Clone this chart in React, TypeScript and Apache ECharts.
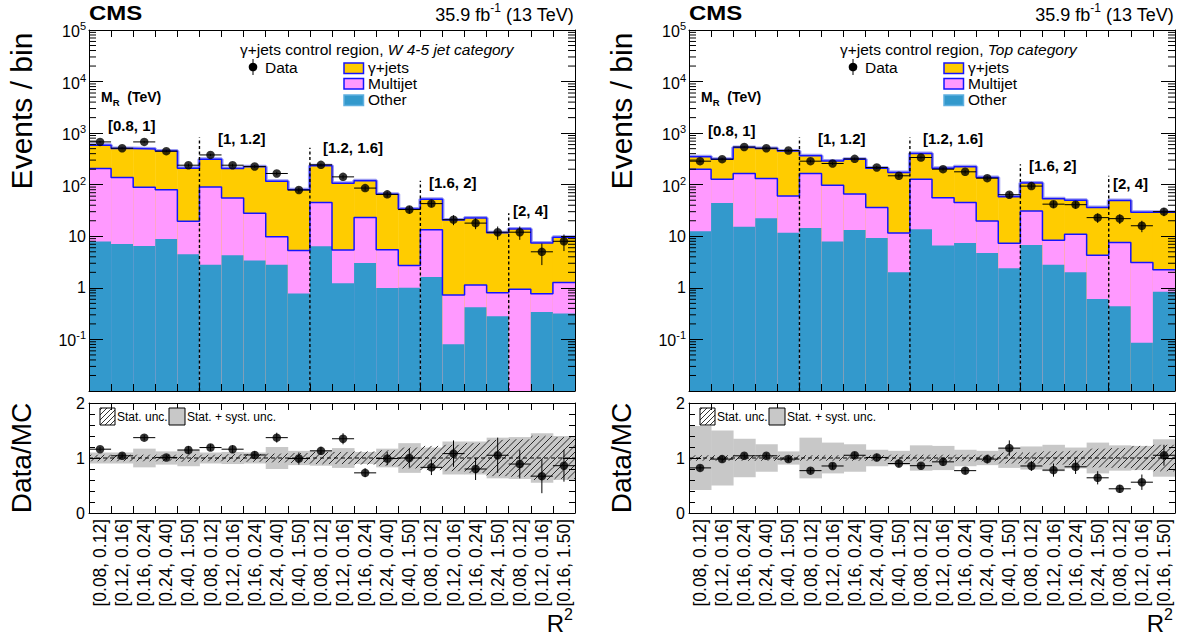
import React, { useEffect, useRef } from 'react';
import * as echarts from 'echarts';

const FONT = '"Liberation Sans", Arial, Helvetica, sans-serif';
const GOLD = '#ffcc00';
const PINK = '#ff99ff';
const SKY = '#3399cc';
const OUTLINE = '#1414ff';
const BAND = '#9c9cf2';
const GRAY = '#c8c8c8';

// ---------------- data ----------------
const binLabels = [
  '[0.08, 0.12]', '[0.12, 0.16]', '[0.16, 0.24]', '[0.24, 0.40]', '[0.40, 1.50]',
  '[0.08, 0.12]', '[0.12, 0.16]', '[0.16, 0.24]', '[0.24, 0.40]', '[0.40, 1.50]',
  '[0.08, 0.12]', '[0.12, 0.16]', '[0.16, 0.24]', '[0.24, 0.40]', '[0.40, 1.50]',
  '[0.08, 0.12]', '[0.12, 0.16]', '[0.16, 0.24]', '[0.24, 1.50]',
  '[0.08, 0.12]', '[0.12, 0.16]', '[0.16, 1.50]',
];
const mrLabels = ['[0.8, 1]', '[1, 1.2]', '[1.2, 1.6]', '[1.6, 2]', '[2, 4]'];
const mrEdges = [5, 10, 15, 19];

// W 4-5 jet category
const wOther = [7.9, 7.1, 6.5, 8.9, 4.5, 2.8, 4.3, 3.4, 2.8, 0.78, 6.4, 1.23, 3.05, 0.99, 1.0, 1.63, 0.081, 0.42, 0.28, 0, 0.34, 0.32];
const wMultijet = [199, 131, 82.5, 71, 15, 88, 51, 24.6, 7.0, 4.5, 38.6, 4.2, 20, 4.5, 1.7, 11.8, 0.65, 0.72, 0.52, 0.94, 0.43, 0.95];
const wGammaJets = [376, 366, 401, 373, 190, 222, 152, 194, 107, 75, 187, 101, 96, 60, 31, 39, 20, 21.5, 10.9, 12.9, 6.6, 8.3];
const wData = [676, 510, 676, 447, 239, 378, 239, 226, 165, 79, 243, 142, 86, 65, 33, 43, 21, 18, 12, 12, 5, 8];
const wRatio = [1.16, 1.04, 1.37, 1.01, 1.145, 1.19, 1.16, 1.055, 1.37, 0.99, 1.13, 1.35, 0.73, 0.99, 1.0, 0.83, 1.08, 0.80, 1.05, 0.89, 0.67, 0.86];
const wRatioErr = [0.04, 0.045, 0.05, 0.05, 0.07, 0.06, 0.07, 0.07, 0.09, 0.11, 0.07, 0.1, 0.08, 0.12, 0.17, 0.14, 0.24, 0.2, 0.32, 0.26, 0.31, 0.29];
const wStatUnc = [0.06, 0.06, 0.06, 0.06, 0.07, 0.06, 0.07, 0.07, 0.08, 0.09, 0.11, 0.11, 0.12, 0.14, 0.19, 0.22, 0.24, 0.27, 0.33, 0.34, 0.4, 0.38];
const wTotUnc = [0.10, 0.10, 0.17, 0.12, 0.15, 0.10, 0.11, 0.10, 0.20, 0.13, 0.14, 0.18, 0.11, 0.17, 0.27, 0.19, 0.30, 0.30, 0.37, 0.38, 0.45, 0.40];
const wSepTop = [822, 520, 119, 28];

// Top category
const tOther = [12.5, 44, 15.3, 22.3, 11.7, 14.5, 7.9, 13.3, 9.3, 2.0, 13.7, 6.6, 7.4, 4.75, 2.4, 6.8, 2.8, 2.0, 0.61, 0.44, 0.086, 0.84];
const tMultijet = [187.5, 84, 150, 110, 49, 150, 90, 53, 27, 9.6, 114, 49, 38, 15, 4.9, 24, 5.6, 8.9, 3.7, 7.1, 3.0, 1.4];
const tGammaJets = [147, 185, 362, 373, 392, 198, 192, 247, 173, 161, 275, 153, 177, 118, 51, 77, 45, 39, 32, 42, 26, 27];
const tData = [286, 313, 539, 510, 460, 286, 258, 317, 216, 149, 337, 200, 178, 134, 64, 94, 42, 41, 23, 22, 16, 30];
const tRatio = [0.82, 0.98, 1.04, 1.04, 0.98, 0.77, 0.855, 1.05, 1.01, 0.90, 0.86, 0.93, 0.77, 0.98, 1.18, 0.855, 0.78, 0.84, 0.64, 0.44, 0.56, 1.05];
const tRatioErr = [0.05, 0.06, 0.045, 0.045, 0.05, 0.05, 0.055, 0.06, 0.07, 0.07, 0.05, 0.07, 0.06, 0.08, 0.14, 0.09, 0.12, 0.13, 0.12, 0.07, 0.14, 0.19];
const tStatUnc = [0.05, 0.05, 0.05, 0.05, 0.05, 0.05, 0.05, 0.05, 0.05, 0.06, 0.06, 0.06, 0.06, 0.06, 0.1, 0.1, 0.12, 0.13, 0.17, 0.18, 0.22, 0.24];
const tTotUnc = [0.58, 0.50, 0.35, 0.25, 0.12, 0.37, 0.28, 0.25, 0.15, 0.13, 0.23, 0.22, 0.15, 0.13, 0.18, 0.21, 0.24, 0.19, 0.28, 0.23, 0.22, 0.34];
const tSepTop = [822, 822, 250, 149];

const panels = [
  {
    category: 'W 4-5 jet category',
    other: wOther, multijet: wMultijet, gjets: wGammaJets, data: wData,
    ratio: wRatio, ratioErr: wRatioErr, stat: wStatUnc, tot: wTotUnc, sepTop: wSepTop,
    labelY: [125, 138, 147, 182, 210],
  },
  {
    category: 'Top category',
    other: tOther, multijet: tMultijet, gjets: tGammaJets, data: tData,
    ratio: tRatio, ratioErr: tRatioErr, stat: tStatUnc, tot: tTotUnc, sepTop: tSepTop,
    labelY: [130, 138, 138, 165, 183],
  },
];

const NB = binLabels.length;

// ---------------- helpers ----------------
let measureCtx: CanvasRenderingContext2D | null = null;
function textWidth(text: string, size: number, weight = 'normal', style = 'normal') {
  if (!measureCtx) measureCtx = document.createElement('canvas').getContext('2d');
  if (!measureCtx) return text.length * size * 0.55;
  measureCtx.font = `${style} ${weight} ${size}px ${FONT}`;
  return measureCtx.measureText(text).width;
}

function hatchLines(x0: number, y0: number, x1: number, y1: number, step: number, width: number) {
  const out: any[] = [];
  const cStart = Math.ceil((x0 + y0) / step) * step;
  for (let c = cStart; c <= x1 + y1; c += step) {
    const xa = Math.max(x0, c - y1);
    const xe = Math.min(x1, c - y0);
    if (xe > xa) {
      out.push({
        type: 'line',
        shape: { x1: xa, y1: c - xa, x2: xe, y2: c - xe },
        style: { stroke: '#000', lineWidth: width },
      });
    }
  }
  return out;
}

const logFmt = (v: number) => {
  const e = Math.round(Math.log10(v));
  if (e <= -2) return '';
  if (e === 0) return '{b|1}';
  if (e === 1) return '{b|10}';
  return `{b|10}{s|${e}}`;
};

const supRich = {
  b: { fontSize: 16, fontFamily: FONT, color: '#000', verticalAlign: 'bottom' },
  s: { fontSize: 11, fontFamily: FONT, color: '#000', verticalAlign: 'bottom', padding: [0, 0, 8, 0] },
};

// plain text element (y = vertical centre)
function txt(x: number, y: number, text: string, size: number, extra: any = {}, el: any = {}) {
  return {
    type: 'text', x, y, z: 100, ...el,
    style: { text, fontFamily: FONT, fill: '#000', fontSize: size, align: 'left', verticalAlign: 'middle', ...extra },
  };
}

// pieces laid out left-to-right; dy shifts a piece up/down (super/subscripts)
function textRun(x: number, y: number, pieces: { t: string; size: number; dy?: number; weight?: string; style?: string }[], alignRight = false) {
  const widths = pieces.map((p) => textWidth(p.t, p.size, p.weight || 'normal', p.style || 'normal'));
  const total = widths.reduce((a, b) => a + b, 0);
  let cx = alignRight ? x - total : x;
  const out: any[] = [];
  pieces.forEach((p, k) => {
    out.push(txt(cx, y + (p.dy || 0), p.t, p.size, { fontWeight: p.weight || 'normal', fontStyle: p.style || 'normal' }));
    cx += widths[k];
  });
  return out;
}

function buildOption() {
  const grid: any[] = [];
  const xAxis: any[] = [];
  const yAxis: any[] = [];
  const series: any[] = [];
  const graphic: any[] = [];

  const minorVals: number[] = [];
  for (let k = -2; k <= 4; k++) for (let m = 2; m <= 9; m++) minorVals.push(m * Math.pow(10, k));

  panels.forEach((p, pi) => {
    const dx = pi * 600;
    const L = 89 + dx;
    const gU = grid.length;
    grid.push({ left: L, top: 30, width: 486, height: 361, containLabel: false, outerBoundsMode: 'none' });
    const gR = grid.length;
    grid.push({ left: L, top: 403, width: 486, height: 110, containLabel: false, outerBoundsMode: 'none' });

    const xb = xAxis.length;
    const edgeAxis = (gridIndex: number, position: string) => ({
      type: 'value', gridIndex, position, min: 0, max: NB, interval: 1, z: 10,
      axisLine: { show: true, onZero: false, lineStyle: { color: '#000', width: 1 } },
      axisTick: { show: true, inside: true, length: 7, lineStyle: { color: '#000', width: 1 } },
      axisLabel: { show: false },
      splitLine: { show: false },
    });
    xAxis.push(edgeAxis(gU, 'bottom'));
    xAxis.push(edgeAxis(gU, 'top'));
    xAxis.push(edgeAxis(gR, 'bottom'));
    xAxis.push(edgeAxis(gR, 'top'));
    xAxis.push({
      type: 'category', gridIndex: gR, position: 'bottom', data: binLabels, boundaryGap: true, z: 10,
      axisLine: { show: false }, axisTick: { show: false }, splitLine: { show: false },
      axisLabel: { show: true, rotate: 90, interval: 0, fontSize: 17.5, fontFamily: FONT, color: '#000', margin: 6 },
    });

    const yb = yAxis.length;
    const logAxis = (position: string, labels: boolean) => ({
      type: 'log', logBase: 10, gridIndex: gU, position, min: 0.01, max: 1e5, splitNumber: 7, z: 10,
      axisLine: { show: true, onZero: false, lineStyle: { color: '#000', width: 1 } },
      axisTick: { show: true, inside: true, length: 14, lineStyle: { color: '#000', width: 1 } },
      axisLabel: labels ? { show: true, formatter: logFmt, rich: supRich, margin: 3, color: '#000' } : { show: false },
      splitLine: { show: false },
      minorTick: { show: false },
    });
    yAxis.push(logAxis('left', true));
    yAxis.push(logAxis('right', false));
    const ratioAxis = (position: string, labels: boolean) => ({
      type: 'value', gridIndex: gR, position, min: 0, max: 2, interval: 1, z: 10,
      axisLine: { show: true, onZero: false, lineStyle: { color: '#000', width: 1 } },
      axisTick: { show: true, inside: true, length: 12, lineStyle: { color: '#000', width: 1 } },
      minorTick: { show: true, splitNumber: 5, length: 6, lineStyle: { color: '#000', width: 1 } },
      axisLabel: labels ? { show: true, fontSize: 16, fontFamily: FONT, color: '#000', margin: 4 } : { show: false },
      splitLine: { show: false },
    });
    yAxis.push(ratioAxis('left', true));
    yAxis.push(ratioAxis('right', false));

    const pinkTop = p.other.map((v, i) => v + p.multijet[i]);
    const total = pinkTop.map((v, i) => v + p.gjets[i]);
    const stepData = (arr: number[]) => [...arr.map((v, i) => [i, v]), [NB, arr[NB - 1]]];

    const up = { xAxisIndex: xb, yAxisIndex: yb };
    const rt = { xAxisIndex: xb + 2, yAxisIndex: yb + 2 };

    // light MC-uncertainty edge (lower half hidden under the fills)
    series.push({
      type: 'line', ...up, step: 'end', symbol: 'none', silent: true, clip: true, z: 2,
      data: stepData(total), lineStyle: { color: BAND, width: 4 },
    });

    // stacked fills
    series.push({
      type: 'custom', ...up, clip: true, silent: true, z: 3,
      data: total.map((v, i) => [i, v, pinkTop[i], p.other[i]]),
      renderItem: (params: any, api: any) => {
        const cs = params.coordSys;
        const yBot = cs.y + cs.height;
        const i = api.value(0);
        const x0 = api.coord([i, 1])[0];
        const x1 = api.coord([i + 1, 1])[0];
        const mk = (v: number, color: string) => {
          if (!(v > 0)) return null;
          const y = api.coord([i, v])[1];
          if (y >= yBot) return null;
          return { type: 'rect', shape: { x: x0, y, width: x1 - x0 + 0.4, height: yBot - y }, style: { fill: color } };
        };
        return { type: 'group', children: [mk(api.value(1), GOLD), mk(api.value(2), PINK), mk(api.value(3), SKY)].filter(Boolean) };
      },
    });

    // outlines
    series.push({
      type: 'line', ...up, step: 'end', symbol: 'none', silent: true, clip: true, z: 4,
      data: stepData(pinkTop), lineStyle: { color: OUTLINE, width: 1.5 },
    });
    series.push({
      type: 'line', ...up, step: 'end', symbol: 'none', silent: true, clip: true, z: 4,
      data: stepData(total), lineStyle: { color: OUTLINE, width: 1.5 },
    });

    // separators
    series.push({
      type: 'custom', ...up, silent: true, z: 5,
      data: mrEdges.map((e, k) => [e, p.sepTop[k]]),
      renderItem: (params: any, api: any) => {
        const cs = params.coordSys;
        const e = api.value(0);
        const top = api.coord([e, api.value(1)]);
        return {
          type: 'line', shape: { x1: top[0], y1: cs.y + cs.height, x2: top[0], y2: top[1] },
          style: { stroke: '#000', lineWidth: 1.4, lineDash: [3, 2.5] },
        };
      },
    });

    // data error bars (upper)
    series.push({
      type: 'custom', ...up, silent: true, z: 6,
      data: p.data.map((v, i) => [i, v, Math.sqrt(v)]),
      renderItem: (params: any, api: any) => {
        const i = api.value(0), v = api.value(1), e = api.value(2);
        const a = api.coord([i, v]);
        const b = api.coord([i + 1, v]);
        const t = api.coord([i + 0.5, v + e]);
        const bt = api.coord([i + 0.5, Math.max(v - e, 0.011)]);
        return {
          type: 'group', children: [
            { type: 'line', shape: { x1: a[0], y1: a[1], x2: b[0], y2: b[1] }, style: { stroke: '#000', lineWidth: 1 } },
            { type: 'line', shape: { x1: t[0], y1: t[1], x2: bt[0], y2: bt[1] }, style: { stroke: '#000', lineWidth: 1 } },
          ],
        };
      },
    });
    series.push({
      type: 'scatter', ...up, silent: true, z: 7, symbol: 'circle', symbolSize: 8.5,
      itemStyle: { color: '#000' },
      data: p.data.map((v, i) => [i + 0.5, v]),
    });

    // log minor ticks on both sides
    series.push({
      type: 'custom', ...up, silent: true, z: 11,
      data: minorVals.map((v) => [0, v]),
      renderItem: (params: any, api: any) => {
        const cs = params.coordSys;
        const y = api.coord([0, api.value(1)])[1];
        return {
          type: 'group', children: [
            { type: 'line', shape: { x1: cs.x, y1: y, x2: cs.x + 7, y2: y }, style: { stroke: '#000', lineWidth: 1 } },
            { type: 'line', shape: { x1: cs.x + cs.width - 7, y1: y, x2: cs.x + cs.width, y2: y }, style: { stroke: '#000', lineWidth: 1 } },
          ],
        };
      },
    });

    // ---- ratio panel ----
    series.push({
      type: 'custom', ...rt, clip: true, silent: true, z: 2,
      data: p.tot.map((u, i) => [i, 1 + u, 1 - u]),
      renderItem: (params: any, api: any) => {
        const i = api.value(0);
        const a = api.coord([i, api.value(1)]);
        const b = api.coord([i + 1, api.value(2)]);
        return { type: 'rect', shape: { x: a[0], y: a[1], width: b[0] - a[0] + 0.4, height: b[1] - a[1] }, style: { fill: GRAY } };
      },
    });
    series.push({
      type: 'custom', ...rt, clip: true, silent: true, z: 3,
      data: p.stat.map((u, i) => [i, 1 + u, 1 - u]),
      renderItem: (params: any, api: any) => {
        const i = api.value(0);
        const a = api.coord([i, api.value(1)]);
        const b = api.coord([i + 1, api.value(2)]);
        return { type: 'group', children: hatchLines(a[0], a[1], b[0], b[1], 6.5, 0.8) };
      },
    });
    series.push({
      type: 'line', ...rt, symbol: 'none', silent: true, z: 4,
      data: [[0, 1], [NB, 1]],
      lineStyle: { color: '#000', width: 1, type: [4, 3] },
    });
    series.push({
      type: 'custom', ...rt, silent: true, clip: true, z: 6,
      data: p.ratio.map((v, i) => [i, v, p.ratioErr[i]]),
      renderItem: (params: any, api: any) => {
        const i = api.value(0), v = api.value(1), e = api.value(2);
        const a = api.coord([i, v]);
        const b = api.coord([i + 1, v]);
        const t = api.coord([i + 0.5, v + e]);
        const bt = api.coord([i + 0.5, v - e]);
        return {
          type: 'group', children: [
            { type: 'line', shape: { x1: a[0], y1: a[1], x2: b[0], y2: b[1] }, style: { stroke: '#000', lineWidth: 1 } },
            { type: 'line', shape: { x1: t[0], y1: t[1], x2: bt[0], y2: bt[1] }, style: { stroke: '#000', lineWidth: 1 } },
          ],
        };
      },
    });
    series.push({
      type: 'scatter', ...rt, silent: true, z: 7, symbol: 'circle', symbolSize: 8.5,
      itemStyle: { color: '#000' },
      data: p.ratio.map((v, i) => [i + 0.5, v]),
    });

    // ---- texts / legends ----
    graphic.push(txt(89 + dx, 13.5, 'CMS', 20, { fontWeight: 'bold' }, { scaleX: 1.2, originX: 0, originY: 0 }));
    graphic.push(...textRun(574 + dx, 15, [
      { t: '35.9 fb', size: 18 },
      { t: '-1', size: 12, dy: -7 },
      { t: ' (13 TeV)', size: 18 },
    ], true));
    graphic.push(...textRun(240 + dx, 49.5, [
      { t: 'γ+jets control region, ', size: 15.5 },
      { t: p.category, size: 15.5, style: 'italic' },
    ]));
    // Data legend
    graphic.push({ type: 'line', z: 100, shape: { x1: 253 + dx, y1: 59, x2: 253 + dx, y2: 75 }, style: { stroke: '#000', lineWidth: 1 } });
    graphic.push({ type: 'circle', z: 100, shape: { cx: 253 + dx, cy: 67, r: 4.3 }, style: { fill: '#000' } });
    graphic.push(txt(265 + dx, 67, 'Data', 15.5));
    const legBoxes = [
      { name: 'γ+jets', fill: GOLD, stroke: OUTLINE, y: 63 },
      { name: 'Multijet', fill: PINK, stroke: OUTLINE, y: 78.5 },
      { name: 'Other', fill: SKY, stroke: '#5fb0e0', y: 95 },
    ];
    legBoxes.forEach((b) => {
      graphic.push({ type: 'rect', z: 100, shape: { x: 344 + dx, y: b.y, width: 19.5, height: 10.5 }, style: { fill: b.fill, stroke: b.stroke, lineWidth: 1.5 } });
      graphic.push(txt(368 + dx, b.y + 4.5, b.name, 15.5));
    });
    // M_R label
    graphic.push(...textRun(101 + dx, 97, [
      { t: 'M', size: 14, weight: 'bold' },
      { t: 'R', size: 9.5, weight: 'bold', dy: 5 },
      { t: '  (TeV)', size: 14, weight: 'bold' },
    ]));
    // M_R bin labels
    const labelX = [108, 218, 323, 429, 513];
    mrLabels.forEach((l, k) => {
      graphic.push(txt(labelX[k] + dx, p.labelY[k], l, 15, { fontWeight: 'bold' }));
    });
    // axis titles
    graphic.push(txt(21 + dx, 111, 'Events / bin', 30, { align: 'center' }, { rotation: Math.PI / 2 }));
    graphic.push(txt(21 + dx, 458, 'Data/MC', 28, { align: 'center' }, { rotation: Math.PI / 2 }));
    graphic.push(...textRun(573 + dx, 623.5, [
      { t: 'R', size: 24 },
      { t: '2', size: 16, dy: -9 },
    ], true));
    // ratio legend
    graphic.push({ type: 'group', z: 100, children: hatchLines(100 + dx, 408, 115 + dx, 425, 5, 0.8) });
    graphic.push({ type: 'rect', z: 100, shape: { x: 100 + dx, y: 408, width: 15, height: 17 }, style: { fill: 'none', stroke: '#000', lineWidth: 1 } });
    graphic.push(txt(117 + dx, 417, 'Stat. unc.', 12));
    graphic.push({ type: 'rect', z: 100, shape: { x: 169 + dx, y: 408, width: 16, height: 17 }, style: { fill: GRAY, stroke: '#000', lineWidth: 1 } });
    graphic.push(txt(187 + dx, 417, 'Stat. + syst. unc.', 12));
  });

  return {
    animation: false,
    backgroundColor: '#fff',
    grid,
    xAxis,
    yAxis,
    series,
    graphic,
  };
}

export default function App() {
  const ref = useRef<HTMLDivElement>(null);
  useEffect(() => {
    if (!ref.current) return;
    const chart = echarts.init(ref.current, null, { renderer: 'svg' });
    chart.setOption(buildOption() as any);
    return () => chart.dispose();
  }, []);
  return (
    <div
      ref={ref}
      style={{ position: 'absolute', left: 0, top: 0, width: 1186, height: 642, background: '#fff' }}
    />
  );
}
